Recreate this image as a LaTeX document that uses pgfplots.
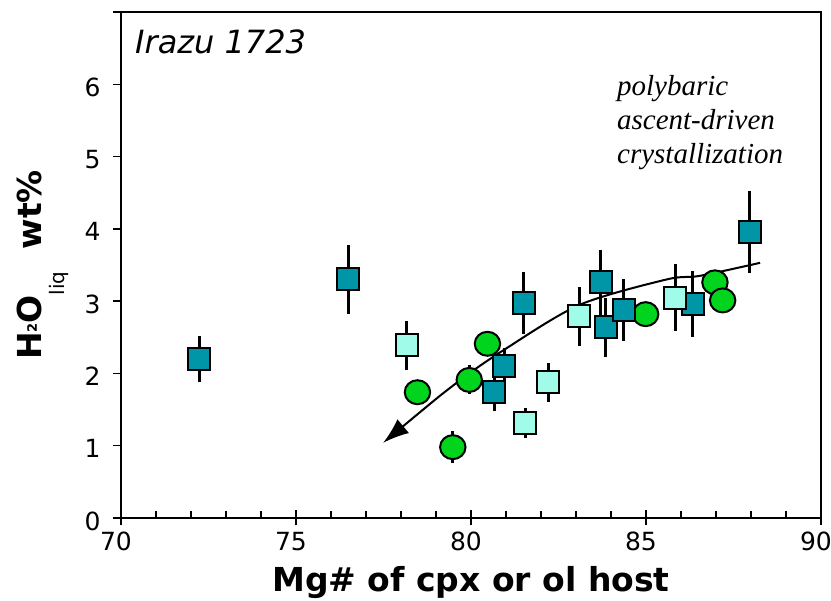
\documentclass[border=0pt]{standalone}
\usepackage{fontspec}
\setmainfont{DejaVu Sans}
\newfontfamily\annotfont{Liberation Serif}
\usepackage{pgfplots}
\pgfplotsset{compat=1.18}
\usetikzlibrary{arrows.meta}
\definecolor{tealsq}{RGB}{0,150,168}
\definecolor{aquasq}{RGB}{160,252,232}
\definecolor{greenol}{RGB}{0,212,28}

\begin{document}
\begin{tikzpicture}
\begin{axis}[
  scale only axis, width=700pt, height=506pt,
  xmin=70, xmax=90, ymin=0, ymax=7,
  xtick={70,75,...,90}, minor x tick num=4,
  ytick={0,...,7}, yticklabels={0,1,2,3,4,5,6,},
  tick pos=left,
  xtick align=center, ytick align=outside,
  major tick length=15pt, minor tick length=7pt,
  major y tick style={xscale=0.53},
  minor x tick style={yshift=3.5pt},
  axis line style={line width=2pt},
  every tick/.append style={black, line width=1.5pt},
  /pgf/number format/assume math mode=true,
  ticklabel style={font=\fontsize{25}{25}\selectfont},
  xticklabel style={yshift=-3pt, xshift=-5pt},
  yticklabel style={xshift=-2pt, yshift=-3pt},
  every axis x label/.style={at={(axis description cs:0.5,-0.1462)}, anchor=base},
  every axis y label/.style={at={(axis description cs:-0.1129,0.5)}, rotate=90, anchor=base},
  xlabel={\bfseries\fontsize{33}{33}\selectfont Mg\# of cpx or ol host},
  ylabel={\bfseries\fontsize{33}{33}\selectfont H\raisebox{5pt}{\fontsize{13}{13}\selectfont 2}O\raisebox{-23pt}{\mdseries\fontsize{20}{20}\selectfont liq}\hspace{22pt}wt\%},
  error bars/error bar style={line width=3pt, black},
  error bars/error mark=none,
]
% trend line
\addplot[smooth, no marks, line width=2pt, {Latex[length=26pt,width=18pt]}-]
  coordinates {(77.49,1.04) (79.59,1.87) (81.02,2.35) (83.11,2.95) (85.59,3.30) (86.54,3.35) (88.26,3.53)};

% olivine hosted (behind)
\addplot[only marks, mark=*, mark size=12pt,
  mark options={fill=greenol, draw=black, line width=2pt, xscale=1.06}]
  coordinates {(84.99,2.82)};

% dark squares
\addplot[only marks, mark=square*, mark size=11pt,
  mark options={fill=tealsq, draw=black, line width=2pt},
  error bars/.cd, y dir=both, y explicit]
  coordinates {
  (72.23,2.20) +- (0,0.32)
  (76.49,3.30) +- (0,0.48)
  (81.50,2.97) +- (0,0.43)
  (80.95,2.10) +- (0,0.25)
  (80.67,1.74) +- (0,0.26)
  (83.71,3.26) +- (0,0.45)
  (83.85,2.64) +- (0,0.41)
  (84.37,2.88) +- (0,0.43)
  (86.33,2.96) +- (0,0.45)
  (87.97,3.96) +- (0,0.57)
  };

% light squares
\addplot[only marks, mark=square*, mark size=11pt,
  mark options={fill=aquasq, draw=black, line width=2pt},
  error bars/.cd, y dir=both, y explicit]
  coordinates {
  (78.16,2.39) +- (0,0.34)
  (83.09,2.79) +- (0,0.41)
  (82.20,1.88) +- (0,0.27)
  (81.55,1.31) +- (0,0.21)
  (85.83,3.05) +- (0,0.46)
  };

% olivine hosted
\addplot[only marks, mark=*, mark size=12pt,
  mark options={fill=greenol, draw=black, line width=2pt, xscale=1.06},
  error bars/.cd, y dir=both, y explicit]
  coordinates {
  (78.47,1.74) +- (0,0)
  (79.95,1.91) +- (0,0.20)
  (80.47,2.41) +- (0,0)
  (79.48,0.98) +- (0,0.22)
  (86.97,3.26) +- (0,0)
  (87.19,3.01) +- (0,0)
  };

\node[anchor=base west, inner sep=0pt, font=\itshape\fontsize{32}{32}\selectfont] at (axis cs:70.4,6.42) {Irazu 1723};
\node[anchor=base west, inner sep=0pt, font=\annotfont\itshape\fontsize{29}{34}\selectfont] at (axis cs:84.17,5.84) {polybaric};
\node[anchor=base west, inner sep=0pt, font=\annotfont\itshape\fontsize{29}{34}\selectfont] at (axis cs:84.17,5.37) {ascent-driven};
\node[anchor=base west, inner sep=0pt, font=\annotfont\itshape\fontsize{29}{34}\selectfont] at (axis cs:84.17,4.90) {crystallization};
\end{axis}
\pgfresetboundingbox
\path ([shift={(-121pt,-83pt)}]current axis.south west) rectangle ([shift={(10pt,12pt)}]current axis.north east);
\end{tikzpicture}
\end{document}
